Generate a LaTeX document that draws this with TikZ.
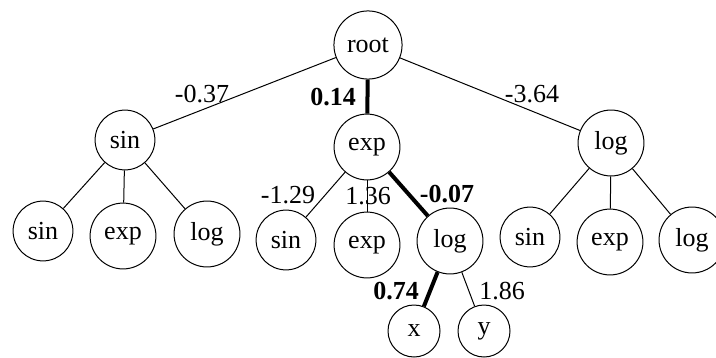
\documentclass[tikz,border=0pt]{standalone}
\usepackage{fontspec}
\setmainfont{Liberation Serif}
\usetikzlibrary{positioning}
\tikzset {
  x=0.5pt, y=-0.5pt,
  % circled operator vertex
  main/.style = {draw, circle, line width=0.5pt, inner sep=4.5pt, minimum size=26pt,
    font=\fontsize{13}{15}\selectfont},
  % weight on an edge
  wt/.style = {inner sep=0pt, font=\fontsize{13}{15}\selectfont},
  % edges on the chosen path
  selected/.style = {line width=2pt},
  plain/.style = {line width=0.5pt},
}
\begin{document}
\begin{tikzpicture}
        \useasboundingbox (0,0) rectangle (716,358);
        \node[main] (root) at (368,45) {root};

        \node[main] (sin1) at (125,140) {sin};
        \node[main] (exp1) at (367,147) {exp};
        \node[main] (log1) at (611,143) {log};

        \node[main] (sin11) at (43,231) {sin};
        \node[main] (exp11) at (123,236) {exp};
        \node[main] (log11) at (207,234) {log};

        \node[main] (sin12) at (286,240) {sin};
        \node[main] (exp12) at (367,245) {exp};
        \node[main] (log12) at (450,241) {log};

        \node[main] (sin13) at (530,237) {sin};
        \node[main] (exp13) at (610,242) {exp};
        \node[main] (log13) at (692,240) {log};

        \node[main] (x) at (414,331) {x};
        \node[main] (y) at (484,331) {y};

        \draw [plain] (root) -- (sin1);
        \draw [selected] (root) -- (exp1);
        \draw [plain] (root) -- (log1);
        \draw [plain] (sin1) -- (sin11);
        \draw [plain] (sin1) -- (exp11);
        \draw [plain] (sin1) -- (log11);
        \draw [plain] (exp1) -- (sin12);
        \draw [plain] (exp1) -- (exp12);
        \draw [selected] (exp1) -- (log12);
        \draw [plain] (log1) -- (sin13);
        \draw [plain] (log1) -- (exp13);
        \draw [plain] (log1) -- (log13);
        \draw [selected] (log12) -- (x);
        \draw [plain] (log12) -- (y);

        \node[wt] (w1) at (202,94) {-0.37};
        \node[wt] (w2) at (333,97) {\textbf{0.14}};
        \node[wt] (w3) at (532,94) {-3.64};
        \node[wt] (w4) at (288,195) {-1.29};
        \node[wt] (w5) at (368,196) {1.36};
        \node[wt] (w6) at (447,194) {\textbf{-0.07}};
        \node[wt] (w7) at (396,291) {\textbf{0.74}};
        \node[wt] (w8) at (502,291) {1.86};
      \end{tikzpicture}
\end{document}
